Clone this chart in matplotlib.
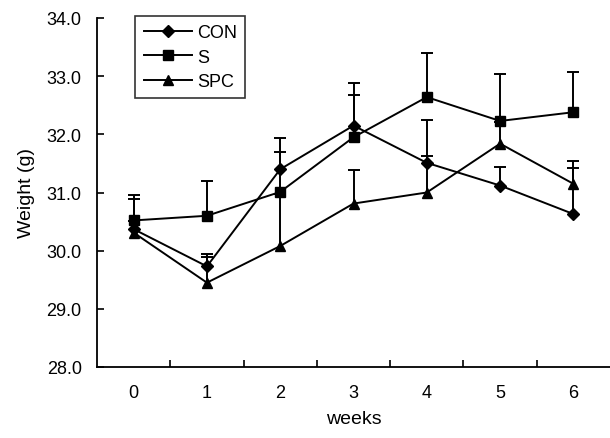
import matplotlib
matplotlib.use("Agg")
import matplotlib.pyplot as plt
import numpy as np

plt.rcParams['font.family'] = ['Liberation Sans', 'DejaVu Sans']

weeks = [0, 1, 2, 3, 4, 5, 6]
week_labels = ['0', '1', '2', '3', '4', '5', '6']
con = [30.37, 29.73, 31.40, 32.15, 31.51, 31.12, 30.63]
s = [30.52, 30.60, 31.01, 31.95, 32.64, 32.23, 32.38]
spc = [30.31, 29.45, 30.08, 30.81, 31.00, 31.84, 31.15]
con_err = [0.51, 0.21, 0.53, 0.53, 0.74, 0.31, 0.79]
s_err = [0.43, 0.59, 0.69, 0.93, 0.76, 0.80, 0.69]
spc_err = [0.20, 0.44, 0.90, 0.58, 0.63, 0.37, 0.39]
y_ticks = [28.0, 29.0, 30.0, 31.0, 32.0, 33.0, 34.0]

fig = plt.figure(figsize=(6.1, 4.39), dpi=100)
ax = fig.add_axes([97/610, 1-368/439, 1-97/610, (368-19)/439])

series = [
    ('CON', con, con_err, 'D', 6.0),
    ('S', s, s_err, 's', 7.0),
    ('SPC', spc, spc_err, '^', 7.5),
]
handles = []
for name, vals, err, mk, ms in series:
    vals = np.array(vals)
    err = np.array(err)
    line, caps, bars = ax.errorbar(weeks, vals, yerr=[np.zeros_like(err), err],
                                   color='black', lw=1.4, elinewidth=1.4,
                                   capsize=4.5, capthick=1.4, marker=mk,
                                   markersize=ms, markerfacecolor='black',
                                   markeredgecolor='black', label=name, zorder=3)
    for c in caps:
        if np.allclose(c.get_ydata(), vals):
            c.set_visible(False)
    handles.append(line)

ax.set_xlim(-0.5, 6.5)
ax.set_ylim(28.0, 34.0)
ax.set_yticks(y_ticks)
ax.set_yticklabels([f'{v:.1f}' for v in y_ticks])
ax.set_xticks(weeks)
ax.set_xticklabels(week_labels)
ax.set_xticks([w + 0.5 for w in weeks[:-1]], minor=True)
ax.tick_params(axis='x', which='major', length=0, pad=12, labelsize=13)
ax.tick_params(axis='x', which='minor', direction='in', length=5, width=1.2)
ax.tick_params(axis='y', which='major', direction='in', length=5, width=1.2,
               pad=11, labelsize=13)

for side in ['top', 'right']:
    ax.spines[side].set_visible(False)
for side in ['left', 'bottom']:
    ax.spines[side].set_linewidth(1.3)

ax.set_ylabel('Weight (g)', fontsize=14, labelpad=8)
ax.set_xlabel('weeks', fontsize=14, labelpad=7)

leg = ax.legend(handles=handles, labels=[s_[0] for s_ in series],
                loc='upper left', bbox_to_anchor=(0.075, 1.005), frameon=True,
                fancybox=False, edgecolor='black', fontsize=13,
                handlelength=2.7, handletextpad=0.25, labelspacing=0.4,
                borderpad=0.45, borderaxespad=0)
leg.get_frame().set_linewidth(1.2)

fig.savefig('out.png', dpi=100)
